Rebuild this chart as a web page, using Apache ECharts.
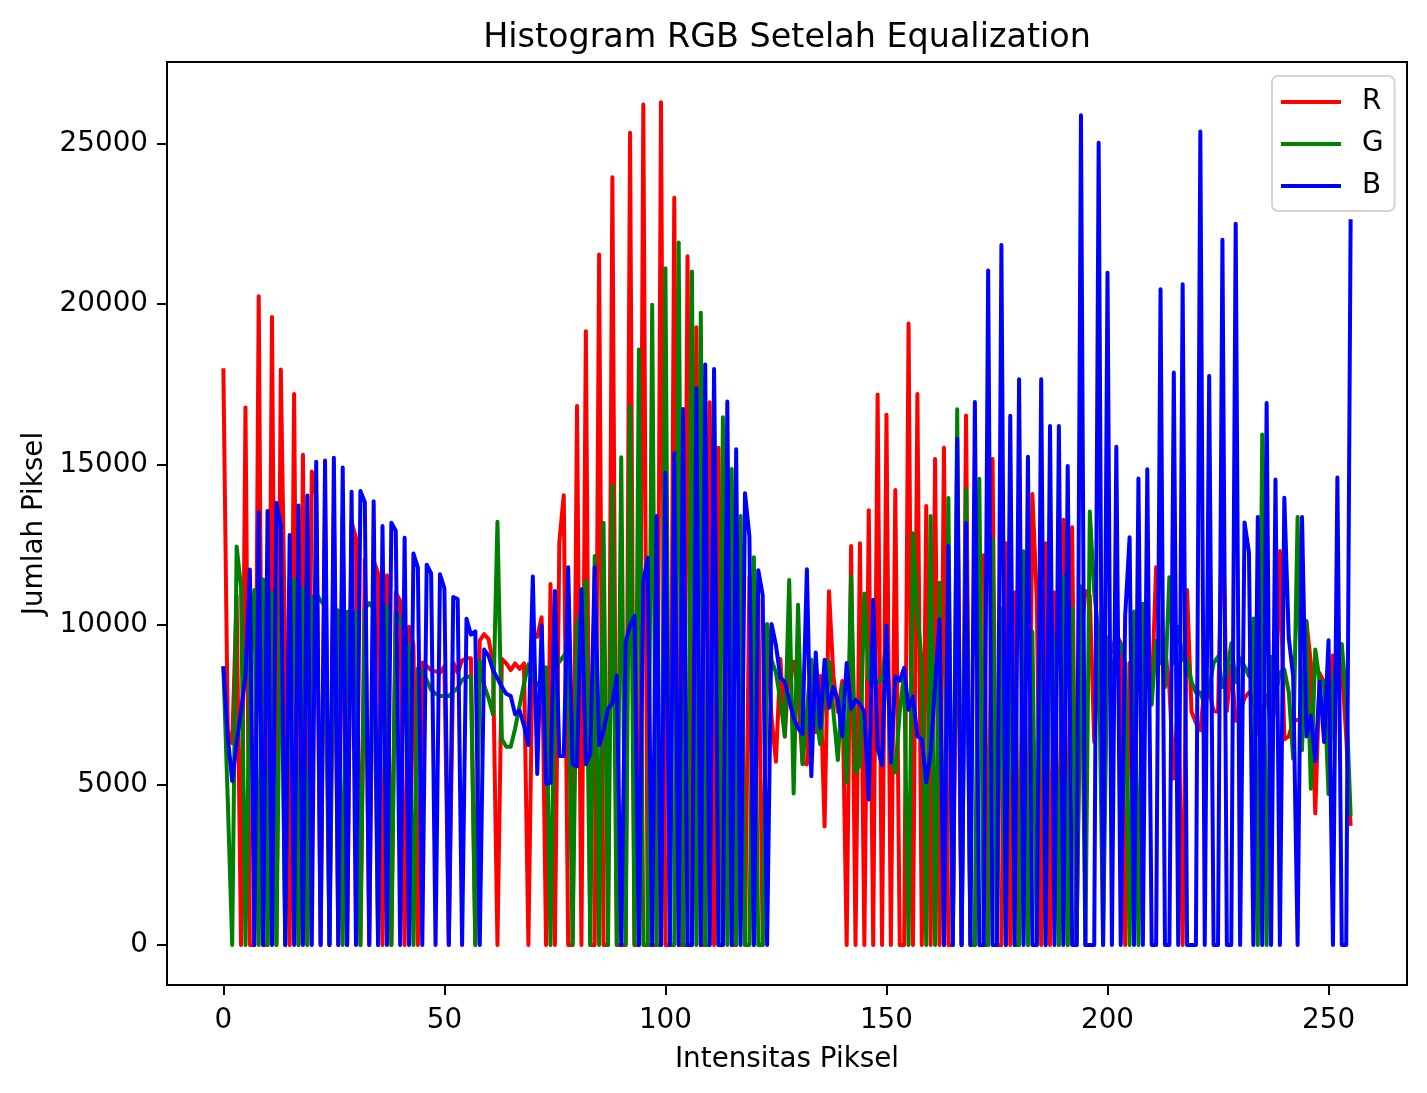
<!DOCTYPE html>
<html>
<head>
<meta charset="utf-8">
<title>Histogram RGB Setelah Equalization</title>
<style>
  html, body { margin: 0; padding: 0; background: #fff; }
  #chart { width: 1427px; height: 1093px; }
</style>
<script src="https://cdn.jsdelivr.net/npm/echarts@6/dist/echarts.min.js"></script>
</head>
<body>
<div id="chart"></div>
<script>
// nilai, per 10 intensitas
const redValues = [
  18000, 6700, 6300, 10900, 0, 16780, 0, 0, 20250, 0,
  0, 19600, 0, 17960, 9000, 0, 17200, 0, 15300, 0,
  14780, 14000, 0, 13700, 0, 13500, 0, 13400, 0, 13200,
  12700, 0, 12030, 0, 12000, 11600, 0, 11540, 0, 11000,
  10740, 0, 9930, 9380, 0, 8820, 8700, 8580, 8540, 8500,
  8700, 0, 8820, 8500, 8880, 8950, 8950, 0, 9500, 9700,
  9550, 8800, 0, 8930, 8790, 8580, 8790, 8620, 8790, 0,
  9620, 9620, 10230, 0, 11270, 0, 12570, 14040, 0, 0,
  16820, 0, 19160, 0, 0, 21550, 0, 0, 23960, 0,
  0, 0, 25350, 0, 0, 26235, 0, 0, 0, 26300,
  0, 0, 23320, 0, 0, 21500, 0, 19280, 0, 0,
  16940, 0, 15520, 0, 14200, 0, 0, 12400, 0, 11500,
  0, 10800, 0, 10000, 7100, 5720, 8930, 6500, 8800, 8840,
  7900, 5700, 5640, 8400, 6650, 8400, 3700, 11040, 8400, 7270,
  8240, 0, 12450, 0, 12540, 0, 13570, 0, 17180, 0,
  16550, 0, 14200, 0, 0, 19400, 0, 17200, 0, 13700,
  0, 15170, 0, 15520, 0, 0, 13000, 0, 16530, 0,
  0, 12000, 12160, 0, 15170, 0, 0, 12540, 0, 11000,
  0, 10500, 0, 14080, 10800, 0, 12540, 0, 11000, 0,
  13270, 0, 13040, 0, 9500, 11050, 10900, 6340, 9000, 5000,
  8800, 9200, 9700, 9420, 0, 8800, 8400, 8000, 9400, 8300,
  7800, 11790, 8800, 9300, 8000, 5200, 7800, 0, 11080, 7280,
  6940, 6700, 8100, 7900, 7300, 7280, 13880, 7300, 8740, 7000,
  7300, 7710, 7880, 7700, 6600, 7300, 7800, 6900, 7400, 12300,
  6420, 6510, 7000, 7020, 7020, 10110, 8800, 4110, 8480, 8200,
  6800, 9040, 8900, 8700, 6500, 3720
]

const greenValues = [
  8700, 4500, 0, 12440, 11170, 0, 8800, 11080, 0, 11410,
  0, 11000, 0, 11470, 0, 11400, 11390, 0, 11130, 0,
  10800, 10980, 10740, 10600, 0, 10500, 10430, 0, 10400, 10380,
  10370, 0, 10500, 10670, 10500, 0, 10500, 10550, 0, 10370,
  10180, 9700, 9190, 0, 8640, 8510, 8270, 7960, 7840, 7770,
  7770, 7770, 7900, 8020, 8270, 8370, 8370, 0, 8880, 8100,
  7700, 7200, 13210, 6420, 6190, 6190, 6760, 7460, 8150, 8760,
  8320, 8150, 7980, 8670, 0, 8700, 8840, 9020, 9300, 0,
  9970, 10500, 11360, 0, 12140, 0, 13180, 0, 14340, 0,
  15220, 0, 16820, 0, 18590, 0, 0, 19980, 0, 0,
  21120, 0, 0, 21930, 0, 0, 21020, 0, 19730, 0,
  0, 17500, 0, 16470, 0, 14860, 0, 13390, 0, 0,
  12100, 0, 0, 10020, 8900, 8500, 7630, 6520, 11390, 4730,
  10620, 5640, 7300, 8900, 7200, 6270, 8000, 8840, 7270, 5770,
  8090, 5080, 11510, 5390, 5640, 10970, 8280, 8200, 8210, 8280,
  9500, 6000, 5390, 7270, 8500, 0, 12850, 10400, 8780, 0,
  13390, 0, 11310, 0, 13950, 0, 16720, 0, 14210, 0,
  0, 14550, 0, 0, 12670, 0, 10500, 0, 11000, 0,
  0, 12290, 0, 9780, 0, 11500, 0, 10500, 9000, 0,
  11500, 0, 10500, 0, 11200, 0, 13530, 11000, 9700, 0,
  9600, 8300, 9500, 9400, 8800, 0, 10410, 0, 10650, 8800,
  7500, 9500, 9400, 8050, 11480, 8800, 9930, 8900, 8900, 8220,
  7880, 7880, 7500, 8000, 8800, 9000, 8050, 8400, 9420, 8200,
  8950, 8700, 8390, 10190, 0, 15930, 0, 9000, 7800, 8500,
  8600, 7900, 5820, 13360, 6080, 10100, 4880, 9220, 8220, 8220,
  4710, 8000, 9250, 9390, 7710, 4030
]

const blueValues = [
  8700, 6500, 5120, 6300, 7300, 8400, 11720, 0, 13510, 0,
  13550, 0, 13800, 13080, 0, 12800, 0, 13720, 0, 14030,
  0, 15080, 0, 15120, 0, 15210, 0, 14900, 0, 14150,
  0, 14170, 13820, 0, 13850, 0, 13080, 0, 13180, 12930,
  0, 12710, 0, 12220, 11780, 0, 11870, 11600, 0, 11570,
  11130, 0, 10860, 10800, 0, 10180, 9690, 9790, 0, 9220,
  9020, 8580, 8320, 8060, 7840, 7770, 7200, 7320, 6850, 6240,
  11500, 5340, 9970, 5030, 5060, 11050, 5900, 5900, 11790, 5640,
  5580, 11100, 5640, 5980, 11790, 6240, 6680, 7370, 7540, 8410,
  0, 9450, 9970, 10270, 0, 11360, 12090, 0, 13390, 0,
  14740, 0, 15350, 0, 16730, 0, 0, 17380, 0, 18120,
  0, 17980, 0, 0, 16960, 0, 15470, 0, 14100, 12750,
  0, 11700, 10920, 0, 10020, 9360, 8340, 8210, 7650, 7090,
  6770, 6580, 11730, 5270, 9130, 6770, 8900, 7400, 8050, 7650,
  6520, 8800, 7370, 7650, 7520, 7270, 4540, 10780, 6140, 5620,
  9970, 5700, 8380, 8250, 8650, 7340, 7750, 6520, 6420, 5080,
  6020, 8090, 10160, 0, 12450, 0, 15800, 0, 13170, 0,
  16950, 0, 0, 21050, 0, 0, 21850, 0, 16520, 0,
  17660, 0, 15240, 0, 0, 17660, 0, 16200, 0, 16200,
  0, 14950, 0, 0, 25900, 0, 0, 0, 25040, 0,
  20980, 0, 15550, 0, 10280, 12730, 0, 14560, 0, 14850,
  0, 0, 20470, 0, 0, 17870, 0, 20620, 0, 0,
  0, 25390, 0, 17760, 0, 0, 22010, 0, 0, 22510,
  0, 13190, 12250, 0, 13360, 0, 16920, 0, 14530, 0,
  13960, 9590, 8390, 0, 13360, 6510, 7160, 5740, 8220, 6340,
  9510, 0, 14590, 0, 0, 22650
]

const xTicks = [0, 50, 100, 150, 200, 250]
const yTicks = [0, 5000, 10000, 15000, 20000, 25000]
const fontName = 'DejaVu Sans'

const toPoints = (values) => values.map((v, i) => [i, v])

const makeSeries = (name, color, values) => ({
  name: name,
  type: 'line',
  data: toPoints(values),
  showSymbol: false,
  symbol: 'none',
  silent: true,
  lineStyle: { color: color, width: 4, join: 'round' },
  itemStyle: { color: color }
})

const chartInstance = echarts.init(document.getElementById('chart'), null, { renderer: 'canvas' })

chartInstance.setOption({
  animation: false,
  backgroundColor: '#fff',
  textStyle: { fontFamily: fontName },
  title: {
    text: 'Histogram RGB Setelah Equalization',
    left: 782,
    top: 17,
    textAlign: 'center',
    textStyle: { fontFamily: fontName, fontSize: 33.4, fontWeight: 'normal', color: '#000' }
  },
  legend: {
    orient: 'vertical',
    left: 1272,
    top: 76,
    padding: [12, 11, 11, 9],
    icon: 'rect',
    itemWidth: 60,
    itemHeight: 4,
    itemGap: 14,
    borderColor: '#d5d5d5',
    borderWidth: 2,
    borderRadius: 6,
    backgroundColor: 'rgba(255,255,255,0.8)',
    z: 10,
    textStyle: { fontFamily: fontName, fontSize: 27.8, color: '#000', padding: [0, 0, 0, 16] },
    data: ['R', 'G', 'B']
  },
  grid: {
    left: 167,
    top: 62,
    width: 1240,
    height: 923,
    show: true,
    borderColor: '#000',
    borderWidth: 2,
    backgroundColor: 'transparent',
    z: 5
  },
  xAxis: {
    type: 'value',
    min: -12.75,
    max: 267.75,
    name: 'Intensitas Piksel',
    nameLocation: 'middle',
    nameGap: 61,
    nameTextStyle: { fontFamily: fontName, fontSize: 27.8, color: '#000' },
    splitLine: { show: false },
    axisLine: { show: false, onZero: false },
    axisTick: { show: true, length: 10, customValues: xTicks, lineStyle: { color: '#000', width: 2 } },
    axisLabel: { fontFamily: fontName, fontSize: 27.8, color: '#000', margin: 22, formatter: (v) => String(v), customValues: xTicks }
  },
  yAxis: {
    type: 'value',
    min: -1248,
    max: 27560,
    name: 'Jumlah Piksel',
    nameLocation: 'middle',
    nameGap: 111,
    nameTextStyle: { fontFamily: fontName, fontSize: 27.8, color: '#000' },
    splitLine: { show: false },
    axisLine: { show: false, onZero: false },
    axisTick: { show: true, length: 10, customValues: yTicks, lineStyle: { color: '#000', width: 2 } },
    axisLabel: { fontFamily: fontName, fontSize: 27.8, color: '#000', margin: 19, formatter: (v) => String(v), customValues: yTicks }
  },
  series: [
    makeSeries('R', '#ff0000', redValues),
    makeSeries('G', '#008000', greenValues),
    makeSeries('B', '#0000ff', blueValues)
  ]
})
</script>
</body>
</html>
